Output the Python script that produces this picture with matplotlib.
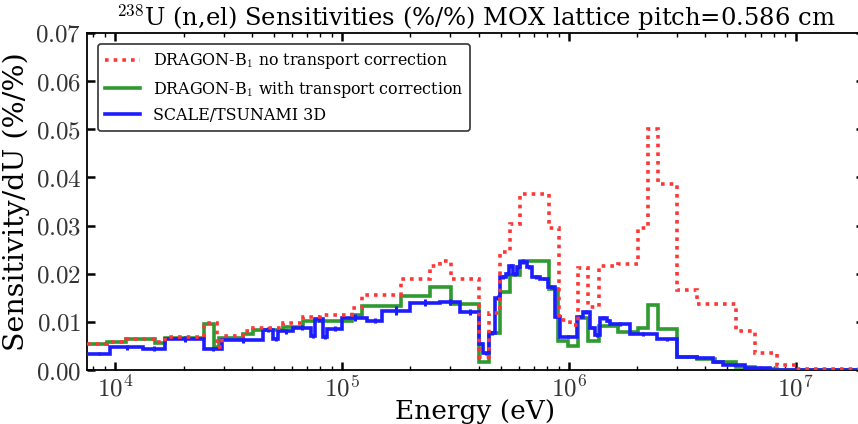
import numpy as np
import matplotlib
matplotlib.use("Agg")
import matplotlib.pyplot as plt
from matplotlib.ticker import FuncFormatter, LogLocator, MultipleLocator

plt.rcParams["font.family"] = ["DejaVu Serif"]
plt.rcParams["mathtext.fontset"] = "cm"

# energy group edges (eV) and sensitivities
red_edges = [7.5e3, 9.2e3, 1.11e4, 1.5e4, 1.66e4, 2.47e4, 2.8e4, 2.95e4, 3.66e4, 4.06e4,
             5.5e4, 6.73e4, 8.0e4, 1.107e5, 1.225e5, 1.82e5, 2.44e5, 2.7e5, 3.02e5, 4.03e5,
             4.46e5, 4.97e5, 5.5e5, 6.08e5, 8.16e5, 9.0e5, 1.01e6, 1.1e6, 1.213e6, 1.36e6,
             1.644e6, 2.014e6, 2.228e6, 2.466e6, 2.991e6, 3.664e6, 5.44e6, 6.6e6, 8.25e6, 1.0e7,
             2.0e7]
red_vals = [0.0054, 0.0059, 0.0064, 0.0059, 0.0068, 0.0098, 0.0047, 0.0071, 0.0080, 0.0087,
            0.0097, 0.0111, 0.0114, 0.0128, 0.0156, 0.0188, 0.0215, 0.0226, 0.0188, 0.0028,
            0.0118, 0.0245, 0.0304, 0.0365, 0.0294, 0.0104, 0.0093, 0.0212, 0.0130, 0.0217,
            0.0221, 0.0294, 0.0501, 0.0387, 0.0166, 0.0137, 0.0080, 0.0036, 0.0010, 0.0002]

green_edges = [7.5e3, 9.2e3, 1.11e4, 1.5e4, 1.66e4, 2.47e4, 2.73e4, 2.87e4, 3.66e4, 4.06e4,
               5.5e4, 6.73e4, 1.107e5, 1.225e5, 1.82e5, 2.44e5, 3.02e5, 4.03e5, 4.46e5, 4.97e5,
               5.5e5, 6.08e5, 8.16e5, 8.95e5, 9.9e5, 1.1e6, 1.213e6, 1.36e6, 1.644e6, 2.014e6,
               2.228e6, 2.466e6, 2.991e6, 3.664e6, 4.4e6, 5.44e6, 6.6e6, 8.25e6, 2.0e7]
green_vals = [0.0053, 0.0058, 0.0064, 0.0057, 0.0067, 0.0095, 0.0047, 0.0067, 0.0074, 0.0084,
              0.0090, 0.0101, 0.0115, 0.0132, 0.0153, 0.0172, 0.0138, 0.0017, 0.0076, 0.0161,
              0.0197, 0.0226, 0.0169, 0.0060, 0.0050, 0.0108, 0.0060, 0.0092, 0.0078, 0.0087,
              0.0134, 0.0086, 0.0027, 0.0022, 0.0016, 0.0007, 0.0003, 0.0001]

blue_edges = [7.5e3, 9.5e3, 1.33e4, 1.66e4, 2.47e4, 2.95e4, 4.49e4, 4.97e4, 5.22e4, 6.08e4,
              7.3e4, 7.6e4, 8.25e4, 8.59e4, 1.0e5, 1.289e5, 1.5e5, 1.99e5, 2.7e5, 3.31e5,
              4.03e5, 4.18e5, 4.46e5, 4.72e5, 4.97e5, 5.28e5, 5.44e5, 5.67e5, 5.9e5, 6.08e5,
              6.53e5, 6.87e5, 7.45e5, 8.08e5, 8.68e5, 9.13e5, 1.085e6, 1.153e6, 1.238e6, 1.302e6,
              1.37e6, 1.471e6, 1.516e6, 1.857e6, 2.442e6, 2.991e6, 3.664e6, 4.31e6, 4.77e6, 5.96e6,
              7.68e6, 2.0e7]
blue_vals = [0.0034, 0.0047, 0.0044, 0.0065, 0.0043, 0.0063, 0.0084, 0.0064, 0.0080, 0.0088,
             0.0071, 0.0106, 0.0069, 0.0086, 0.0109, 0.0102, 0.0123, 0.0140, 0.0142, 0.0120,
             0.0055, 0.0035, 0.0077, 0.0150, 0.0193, 0.0199, 0.0216, 0.0199, 0.0213, 0.0225,
             0.0214, 0.0194, 0.0190, 0.0173, 0.0111, 0.0069, 0.0111, 0.0121, 0.0088, 0.0072,
             0.0108, 0.0102, 0.0095, 0.0074, 0.0064, 0.0027, 0.0024, 0.0016, 0.0010, 0.0004,
             0.0001]
blue_err = [0.0003, 0.0005, 0.0005, 0.0006, 0.0004, 0.0006, 0.0005, 0.0004, 0.0005, 0.0005,
            0.0004, 0.0006, 0.0004, 0.0005, 0.0008, 0.0005, 0.0009, 0.0008, 0.0006, 0.0006,
            0.0003, 0.0003, 0.0004, 0.0005, 0.0004, 0.0004, 0.0005, 0.0004, 0.0004, 0.0005,
            0.0004, 0.0004, 0.0003, 0.0004, 0.0004, 0.0003, 0.0004, 0.0004, 0.0003, 0.0003,
            0.0004, 0.0003, 0.0004, 0.0004, 0.0003, 0.0002, 0.0002, 0.0001, 0.0001, 0.0001,
            0.0001]

RED = "#ff3636"
GREEN = "#2f9a2f"
BLUE = "#1c1cff"

fig = plt.figure(figsize=(8.58, 4.24), dpi=100)
ax = fig.add_axes([87 / 858, 54 / 424, 777 / 858, 337 / 424])

ax.stairs(green_vals, green_edges, baseline=None, color=GREEN, lw=2.6, zorder=2,
          label=r"DRAGON-B$_1$ with transport correction")
ax.stairs(blue_vals, blue_edges, baseline=None, color=BLUE, lw=2.6, zorder=3,
          label="SCALE/TSUNAMI 3D")
be = np.array(blue_edges)
centers = np.sqrt(be[:-1] * be[1:])
ax.errorbar(centers, blue_vals, yerr=blue_err, fmt="none", ecolor=BLUE, elinewidth=2.2,
            capsize=0, zorder=3)
ax.stairs(red_vals, red_edges, baseline=None, color=RED, lw=2.6, ls=(0, (1, 1.4)), zorder=4,
          label=r"DRAGON-B$_1$ no transport correction")

ax.set_xscale("log")
ax.set_xlim(7.5e3, 2.0e7)
ax.set_ylim(0, 0.07)
ax.yaxis.set_major_locator(MultipleLocator(0.01))
ax.yaxis.set_major_formatter(FuncFormatter(lambda v, p: f"${v:.2f}$"))
ax.xaxis.set_major_locator(LogLocator(base=10))
ax.xaxis.set_major_formatter(
    FuncFormatter(lambda v, p: r"$10^{%d}$" % int(round(np.log10(v)))))
ax.xaxis.set_minor_locator(LogLocator(base=10, subs=np.arange(2, 10)))

ax.tick_params(which="both", direction="in", top=True, right=True, colors="black",
               labelcolor="#333333")
ax.tick_params(which="major", length=6, width=1.8, labelsize=18, pad=4)
ax.tick_params(which="minor", length=3, width=1.0)
for s in ax.spines.values():
    s.set_linewidth(1.3)

ax.set_title(r"$^{238}$U (n,el) Sensitivities (%/%) MOX lattice pitch=0.586 cm",
             fontsize=17.5, pad=3)
ax.set_xlabel("Energy (eV)", fontsize=19, labelpad=-2)
ax.set_ylabel("Sensitivity/dU (%/%)", fontsize=20.5, labelpad=4)

handles, labels = ax.get_legend_handles_labels()
order = [2, 0, 1]
leg = ax.legend([handles[i] for i in order], [labels[i] for i in order],
                loc="upper left", fontsize=11.4, fancybox=True, framealpha=1,
                edgecolor="#333333", borderpad=0.45, handlelength=2.2, labelspacing=0.45,
                bbox_to_anchor=(0.004, 0.99))
leg.get_frame().set_linewidth(1.2)

fig.savefig("out.png", dpi=100)
